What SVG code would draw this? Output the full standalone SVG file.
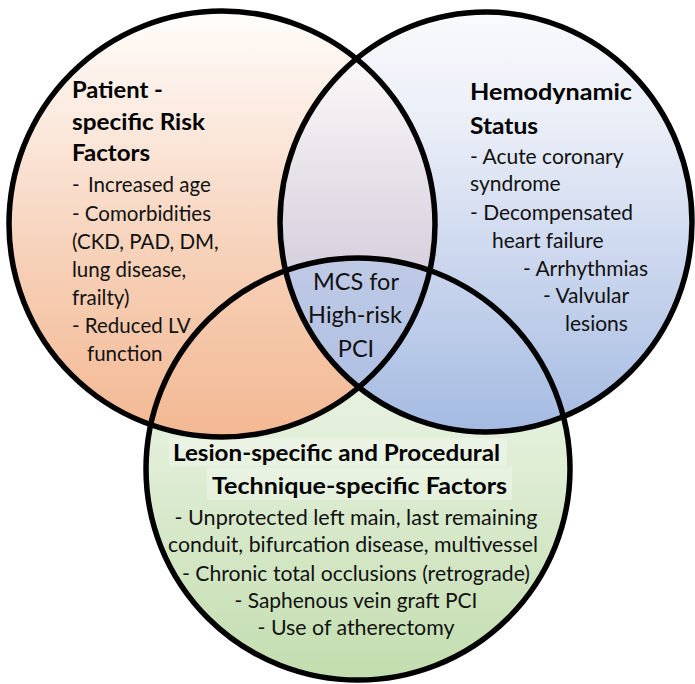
<svg xmlns="http://www.w3.org/2000/svg" width="695" height="684" viewBox="0 0 695 684">
  <defs>
    <linearGradient id="gPeach" gradientUnits="userSpaceOnUse" x1="0" y1="11" x2="0" y2="437">
      <stop offset="0" stop-color="#fffdfb"/>
      <stop offset="0.25" stop-color="#fbeadf"/>
      <stop offset="0.56" stop-color="#f7d2ba"/>
      <stop offset="1" stop-color="#f3b892"/>
    </linearGradient>
    <linearGradient id="gBlue" gradientUnits="userSpaceOnUse" x1="0" y1="12" x2="0" y2="432">
      <stop offset="0" stop-color="#f9fafd"/>
      <stop offset="0.26" stop-color="#eaeef7"/>
      <stop offset="0.59" stop-color="#ccd7ee"/>
      <stop offset="1" stop-color="#a4bbe2"/>
    </linearGradient>
    <linearGradient id="gGreen" gradientUnits="userSpaceOnUse" x1="0" y1="258" x2="0" y2="680">
      <stop offset="0" stop-color="#eef6ea"/>
      <stop offset="0.43" stop-color="#e2efd9"/>
      <stop offset="1" stop-color="#c2ddae"/>
    </linearGradient>
    <linearGradient id="gLens" gradientUnits="userSpaceOnUse" x1="0" y1="58" x2="0" y2="387">
      <stop offset="0" stop-color="#fbf8f8"/>
      <stop offset="0.6" stop-color="#d8d3df"/>
      <stop offset="1" stop-color="#b8c5e3"/>
    </linearGradient>
    <linearGradient id="gCenter" gradientUnits="userSpaceOnUse" x1="0" y1="257" x2="0" y2="390">
      <stop offset="0" stop-color="#bfcae5"/>
      <stop offset="1" stop-color="#afc0e3"/>
    </linearGradient>
    <clipPath id="clipLeft"><ellipse cx="222" cy="224" rx="213" ry="213"/></clipPath>
    <clipPath id="clipRight"><ellipse cx="486" cy="222" rx="206" ry="210"/></clipPath>
    <style>
      .outline { fill: none; stroke: #000; stroke-width: 5.5; }
      .head { font-family: Lato, "Liberation Sans", sans-serif; font-weight: 700; font-size: 23.5px; fill: #000; }
      .body { font-family: Lato, "Liberation Sans", sans-serif; font-weight: 400; font-size: 20.5px; fill: #111; }
      .rt { font-size: 21px; }
      .bt { font-size: 21.5px; }
      .ct { font-size: 23.5px; }
      .mid { text-anchor: middle; }
    </style>
  </defs>

  <rect width="695" height="684" fill="#ffffff"/>

  <g id="venn-fills">
    <ellipse cx="358" cy="469" rx="212" ry="211" fill="url(#gGreen)"/>
    <ellipse cx="222" cy="224" rx="213" ry="213" fill="url(#gPeach)"/>
    <ellipse cx="486" cy="222" rx="206" ry="210" fill="url(#gBlue)"/>
    <ellipse cx="486" cy="222" rx="206" ry="210" fill="url(#gLens)" clip-path="url(#clipLeft)"/>
    <g clip-path="url(#clipLeft)">
      <ellipse cx="358" cy="469" rx="212" ry="211" fill="url(#gCenter)" clip-path="url(#clipRight)"/>
    </g>
    <rect x="169" y="438" width="338" height="28" fill="#ffffff" opacity="0.3"/>
    <rect x="207" y="467" width="305" height="33" fill="#ffffff" opacity="0.3"/>
  </g>

  <g id="node-patient">
    <ellipse class="outline" cx="222" cy="224" rx="213" ry="213"/>
    <text class="head" x="72" y="98" textLength="91" lengthAdjust="spacingAndGlyphs">Patient -</text>
    <text class="head" x="72" y="130" textLength="133" lengthAdjust="spacingAndGlyphs">specific Risk</text>
    <text class="head" x="72" y="161" textLength="78" lengthAdjust="spacingAndGlyphs">Factors</text>
    <text class="body" x="72" y="192">-</text>
    <text class="body" x="88" y="192">Increased age</text>
    <text class="body" x="72" y="221">- Comorbidities</text>
    <text class="body" x="72" y="249">(CKD, PAD, DM,</text>
    <text class="body" x="72" y="277">lung disease,</text>
    <text class="body" x="72" y="305">frailty)</text>
    <text class="body" x="72" y="333">- Reduced LV</text>
    <text class="body" x="87" y="361">function</text>
  </g>

  <g id="node-hemodynamic">
    <ellipse class="outline" cx="486" cy="222" rx="206" ry="210"/>
    <text class="head" x="470" y="100" textLength="162" lengthAdjust="spacingAndGlyphs">Hemodynamic</text>
    <text class="head" x="470" y="134" textLength="68" lengthAdjust="spacingAndGlyphs">Status</text>
    <text class="body rt" x="470" y="164">- Acute coronary</text>
    <text class="body rt" x="470" y="191">syndrome</text>
    <text class="body rt" x="470" y="220" textLength="163" lengthAdjust="spacingAndGlyphs">- Decompensated</text>
    <text class="body rt" x="492" y="248">heart failure</text>
    <text class="body rt" x="523" y="276" textLength="125" lengthAdjust="spacingAndGlyphs">- Arrhythmias</text>
    <text class="body rt" x="543" y="303">- Valvular</text>
    <text class="body rt" x="565" y="331">lesions</text>
  </g>

  <g id="node-lesion">
    <ellipse class="outline" cx="358" cy="469" rx="212" ry="211"/>
    <text class="head" x="173" y="461" textLength="327" lengthAdjust="spacingAndGlyphs">Lesion-specific and Procedural</text>
    <text class="head" x="212" y="494" textLength="295" lengthAdjust="spacingAndGlyphs">Technique-specific Factors</text>
    <text class="body bt mid" x="356" y="525" textLength="363" lengthAdjust="spacingAndGlyphs">- Unprotected left main, last remaining</text>
    <text class="body bt mid" x="353" y="552" textLength="370" lengthAdjust="spacingAndGlyphs">conduit, bifurcation disease, multivessel</text>
    <text class="body bt mid" x="356" y="581" textLength="348" lengthAdjust="spacingAndGlyphs">- Chronic total occlusions (retrograde)</text>
    <text class="body bt mid" x="356" y="608" textLength="243" lengthAdjust="spacingAndGlyphs">- Saphenous vein graft PCI</text>
    <text class="body bt mid" x="356" y="635" textLength="197" lengthAdjust="spacingAndGlyphs">- Use of atherectomy</text>
  </g>

  <g id="node-center">
    <text class="body ct mid" x="356" y="290">MCS for</text>
    <text class="body ct mid" x="355" y="323">High-risk</text>
    <text class="body ct mid" x="356" y="357">PCI</text>
  </g>
</svg>
